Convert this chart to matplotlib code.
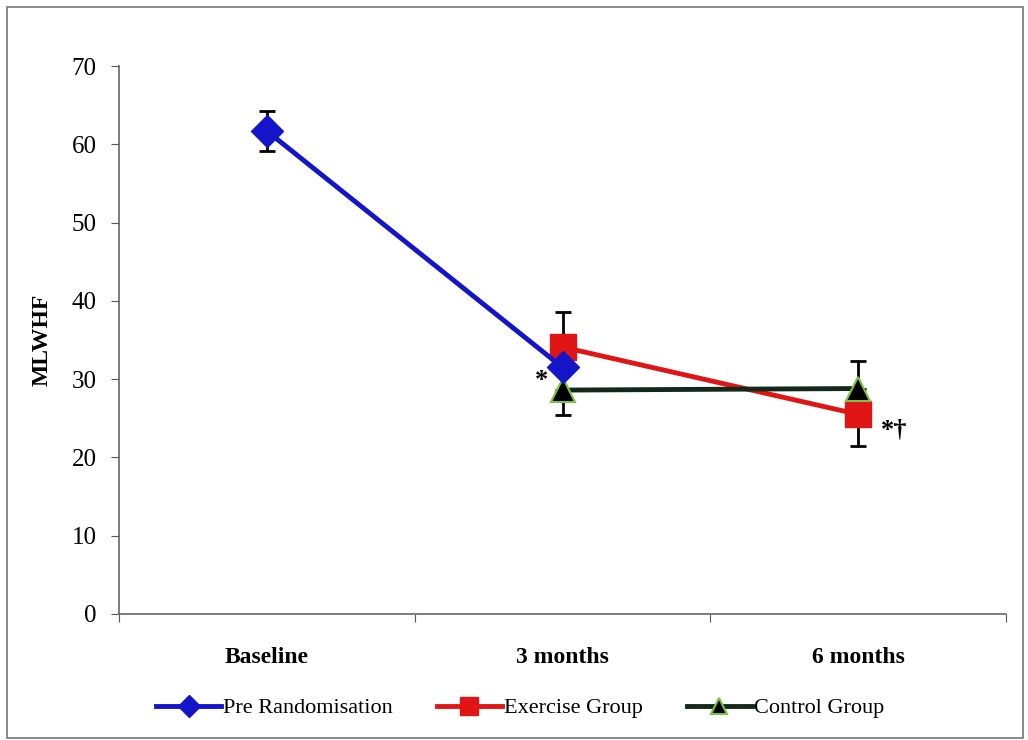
import matplotlib.pyplot as plt
from matplotlib.patches import Rectangle

plt.rcParams['font.family'] = ['Liberation Serif', 'DejaVu Serif']

# --- Data ---
categories = ['Baseline', '3 months', '6 months']

pre_x = [0, 1]
pre_mean = [61.7, 31.5]
pre_err_low = [2.5, 0.0]
pre_err_high = [2.5, 0.0]

ex_x = [1, 2]
ex_mean = [34.1, 25.5]
ex_err_low = [0.0, 4.0]
ex_err_high = [4.5, 0.0]

ctl_x = [1, 2]
ctl_mean = [28.6, 28.8]
ctl_err_low = [3.2, 0.0]
ctl_err_high = [0.0, 3.5]

y_ticks = [0, 10, 20, 30, 40, 50, 60, 70]

# --- Plotting ---
fig = plt.figure(figsize=(10.28, 7.40), dpi=100)
ax = fig.add_axes([0.1158, 0.1703, 0.8628, 0.7405])

err_kw = dict(fmt='none', ecolor='black', elinewidth=2, capsize=6, capthick=2, zorder=2)
ax.errorbar(pre_x, pre_mean, yerr=[pre_err_low, pre_err_high], **err_kw)
ax.errorbar(ex_x, ex_mean, yerr=[ex_err_low, ex_err_high], **err_kw)
ax.errorbar(ctl_x, ctl_mean, yerr=[ctl_err_low, ctl_err_high], **err_kw)

ax.plot(ex_x, ex_mean, color='#e01515', lw=3.5, marker='s', ms=19,
        mec='#e01515', label='Exercise Group', zorder=3)
ax.plot(ctl_x, ctl_mean, color='#14281a', lw=3.5, marker='^', ms=17,
        mfc='black', mec='#7cc242', mew=1.5, label='Control Group', zorder=4)
ax.plot(pre_x, pre_mean, color='#1414c8', lw=3.5, marker='D', ms=16,
        mec='#1414c8', label='Pre Randomisation', zorder=5)

# significance markers
ax.text(0.93, 29.8, '*', fontsize=19, fontweight='bold', ha='center', va='center')
ax.text(2.12, 23.5, '*\u2020', fontsize=19, fontweight='bold', ha='center', va='center')

ax.set_xlim(-0.5, 2.5)
ax.set_ylim(0, 70)
ax.set_yticks(y_ticks)
ax.set_yticklabels([str(t) for t in y_ticks], fontsize=18)
ax.set_xticks([-0.5, 0.5, 1.5, 2.5])
ax.set_xticklabels([])
ax.set_xticks([0, 1, 2], minor=True)
ax.set_xticklabels(categories, minor=True, fontsize=17, fontweight='bold')
ax.tick_params(axis='x', which='minor', length=0, pad=24)
ax.tick_params(axis='x', which='major', direction='out', length=6, color='#555555')
ax.tick_params(axis='y', direction='out', length=6, color='#555555', pad=10)
ax.set_ylabel('MLWHF', fontsize=17, fontweight='bold', labelpad=14)

for side in ['top', 'right']:
    ax.spines[side].set_visible(False)
for side in ['left', 'bottom']:
    ax.spines[side].set_color('#666666')
    ax.spines[side].set_linewidth(1.2)

handles, labels = ax.get_legend_handles_labels()
order = [2, 0, 1]
leg = fig.legend([handles[i] for i in order], [labels[i] for i in order],
                 loc='center', bbox_to_anchor=(0.506, 0.043), ncol=3, frameon=False,
                 fontsize=16, handlelength=2.9, handletextpad=0.1, columnspacing=2.0,
                 markerscale=0.7)

# frame around the whole figure
fig.patches.append(Rectangle((0.007, 0.003), 0.988, 0.987, transform=fig.transFigure,
                             fill=False, edgecolor='#777777', lw=1.2))

plt.savefig('out.png', dpi=100)
